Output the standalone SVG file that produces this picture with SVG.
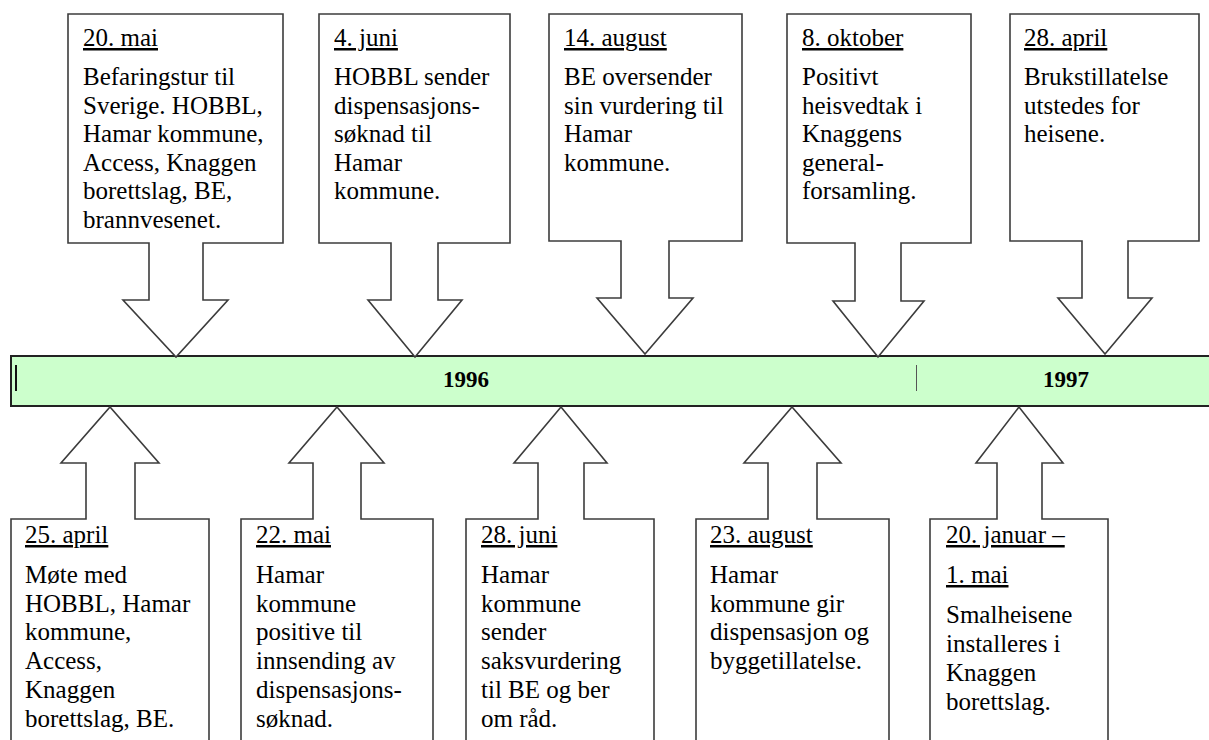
<svg xmlns="http://www.w3.org/2000/svg" width="1209" height="740" viewBox="0 0 1209 740">
<style>
.co{fill:#fff;stroke:#3c3c3c;stroke-width:1.6;stroke-linejoin:miter}
.t{font-family:"Liberation Serif","Times New Roman",serif;font-size:25px;fill:#000}
.h{text-decoration:underline}
.yr{font-family:"Liberation Serif","Times New Roman",serif;font-size:23px;font-weight:bold;fill:#000;text-anchor:middle}
</style>
<rect width="1209" height="740" fill="#fff"/>
<g id="timeline">
<rect x="11" y="356" width="1210" height="50" fill="#ccffcc" stroke="#222" stroke-width="2"/>
<line x1="16" y1="365" x2="16" y2="391" stroke="#111" stroke-width="2"/>
<line x1="916.5" y1="365" x2="916.5" y2="391" stroke="#555" stroke-width="1"/>
<text class="yr" x="466" y="387">1996</text>
<text class="yr" x="1066" y="387">1997</text>
</g>
<g id="connectors"></g>
<g id="top1">
<path class="co" d="M68,14 H283 V243 H203 V300 H228 L176,357 L123,300 H149 V243 H68 Z"/>
<text class="t"><tspan class="h" x="83" y="46">20. mai</tspan><tspan x="83" y="85">Befaringstur til</tspan><tspan x="83" y="113.5">Sverige. HOBBL,</tspan><tspan x="83" y="142">Hamar kommune,</tspan><tspan x="83" y="170.5">Access, Knaggen</tspan><tspan x="83" y="199">borettslag, BE,</tspan><tspan x="83" y="227.5">brannvesenet.</tspan></text>
</g>
<g id="top2">
<path class="co" d="M319,14 H510 V243 H438 V300 H462 L415,357 L368,300 H391 V243 H319 Z"/>
<text class="t"><tspan class="h" x="334" y="46">4. juni</tspan><tspan x="334" y="85">HOBBL sender</tspan><tspan x="334" y="113.5">dispensasjons-</tspan><tspan x="334" y="142">søknad til</tspan><tspan x="334" y="170.5">Hamar</tspan><tspan x="334" y="199">kommune.</tspan></text>
</g>
<g id="top3">
<path class="co" d="M549,14 H742 V241 H669 V298 H693 L645,354 L597,298 H621 V241 H549 Z"/>
<text class="t"><tspan class="h" x="564" y="46">14. august</tspan><tspan x="564" y="85">BE oversender</tspan><tspan x="564" y="113.5">sin vurdering til</tspan><tspan x="564" y="142">Hamar</tspan><tspan x="564" y="170.5">kommune.</tspan></text>
</g>
<g id="top4">
<path class="co" d="M787,14 H971 V243 H901 V301 H924 L878,357 L833,301 H855 V243 H787 Z"/>
<text class="t"><tspan class="h" x="802" y="46">8. oktober</tspan><tspan x="802" y="85">Positivt</tspan><tspan x="802" y="113.5">heisvedtak i</tspan><tspan x="802" y="142">Knaggens</tspan><tspan x="802" y="170.5">general-</tspan><tspan x="802" y="199">forsamling.</tspan></text>
</g>
<g id="top5">
<path class="co" d="M1010,14 H1199 V241 H1128 V298 H1152 L1105,354 L1058,298 H1082 V241 H1010 Z"/>
<text class="t"><tspan class="h" x="1024" y="46">28. april</tspan><tspan x="1024" y="85">Brukstillatelse</tspan><tspan x="1024" y="113.5">utstedes for</tspan><tspan x="1024" y="142">heisene.</tspan></text>
</g>
<g id="bot1">
<path class="co" d="M11,745 V519 H86 V463 H61 L110,407 L159,463 H135 V519 H209 V745"/>
<text class="t"><tspan class="h" x="25" y="543">25. april</tspan><tspan x="25" y="583">Møte med</tspan><tspan x="25" y="611.7">HOBBL, Hamar</tspan><tspan x="25" y="640.4">kommune,</tspan><tspan x="25" y="669.1">Access,</tspan><tspan x="25" y="697.8">Knaggen</tspan><tspan x="25" y="726.5">borettslag, BE.</tspan></text>
</g>
<g id="bot2">
<path class="co" d="M241,745 V519 H313 V463 H289 L337,407 L384,463 H361 V519 H433 V745"/>
<text class="t"><tspan class="h" x="256" y="543">22. mai</tspan><tspan x="256" y="583">Hamar</tspan><tspan x="256" y="611.7">kommune</tspan><tspan x="256" y="640.4">positive til</tspan><tspan x="256" y="669.1">innsending av</tspan><tspan x="256" y="697.8">dispensasjons-</tspan><tspan x="256" y="726.5">søknad.</tspan></text>
</g>
<g id="bot3">
<path class="co" d="M466,745 V519 H538 V463 H514 L561,407 L607,463 H584 V519 H654 V745"/>
<text class="t"><tspan class="h" x="481" y="543">28. juni</tspan><tspan x="481" y="583">Hamar</tspan><tspan x="481" y="611.7">kommune</tspan><tspan x="481" y="640.4">sender</tspan><tspan x="481" y="669.1">saksvurdering</tspan><tspan x="481" y="697.8">til BE og ber</tspan><tspan x="481" y="726.5">om råd.</tspan></text>
</g>
<g id="bot4">
<path class="co" d="M696,745 V519 H768 V463 H744 L792,407 L841,463 H817 V519 H889 V745"/>
<text class="t"><tspan class="h" x="710" y="543">23. august</tspan><tspan x="710" y="583">Hamar</tspan><tspan x="710" y="611.7">kommune gir</tspan><tspan x="710" y="640.4">dispensasjon og</tspan><tspan x="710" y="669.1">byggetillatelse.</tspan></text>
</g>
<g id="bot5">
<path class="co" d="M930,745 V519 H997 V463 H976 L1019,407 L1063,463 H1042 V519 H1108 V745"/>
<text class="t"><tspan class="h" x="946" y="543">20. januar –</tspan><tspan class="h" x="946" y="583">1. mai</tspan><tspan x="946" y="623">Smalheisene</tspan><tspan x="946" y="652">installeres i</tspan><tspan x="946" y="680.5">Knaggen</tspan><tspan x="946" y="709.5">borettslag.</tspan></text>
</g>
</svg>
